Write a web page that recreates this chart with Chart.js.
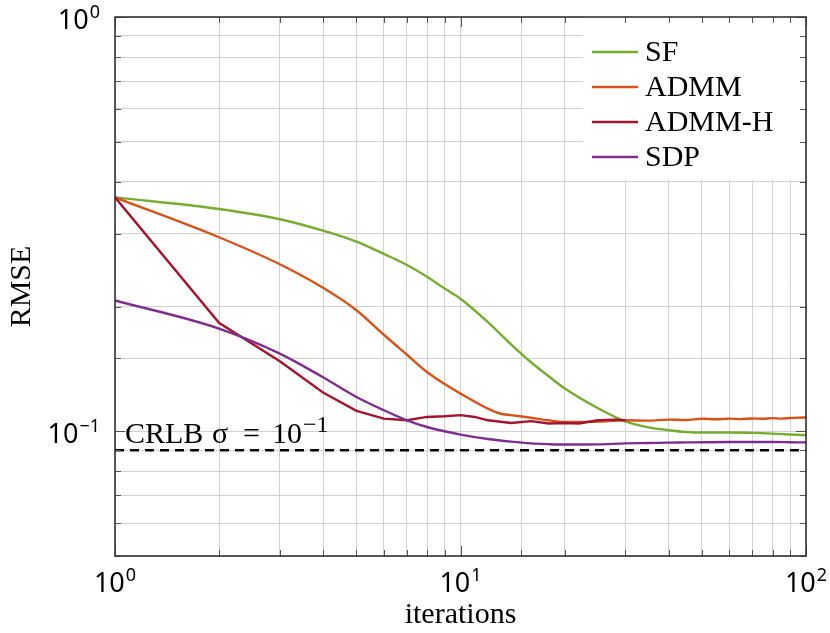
<!DOCTYPE html>
<html>
<head>
<meta charset="utf-8">
<script src="https://cdn.jsdelivr.net/npm/chart.js@4.4.1/dist/chart.umd.min.js"></script>
<style>
  html, body { margin: 0; padding: 0; background: #fff; }
  #wrap { width: 830px; height: 633px; }
</style>
</head>
<body>
<div id="wrap"><canvas id="rmseChart" width="830" height="633"></canvas></div>
<script>
// ---- data ----
const iters = [1, 2, 3, 4, 5, 6, 7, 8, 9, 10, 12, 14, 16, 18, 20, 25, 30, 35, 40, 45, 50, 60, 70, 80, 90, 100];
const sfRmse = [0.367, 0.344, 0.325, 0.305, 0.287, 0.268, 0.252, 0.236, 0.221, 0.2089, 0.1834, 0.1622, 0.1468, 0.1358, 0.127, 0.1137, 0.1057, 0.1022, 0.1006, 0.0996, 0.0993, 0.0993, 0.0991, 0.0987, 0.0982, 0.0979];
const sdpRmse = [0.207, 0.177, 0.154, 0.135, 0.121, 0.1124, 0.1063, 0.1024, 0.1000, 0.0982, 0.0958, 0.0944, 0.0935, 0.0931, 0.0929, 0.0930, 0.0935, 0.0937, 0.0939, 0.0940, 0.0941, 0.0942, 0.0942, 0.0942, 0.0941, 0.0940];
const itersA = [1, 2, 3, 4, 5, 6, 7, 8, 9, 10, 12, 13, 14, 16, 18, 20, 25, 30, 35, 40, 45, 50, 55, 60, 65, 70, 75, 80, 85, 90, 95, 100];
const admmRmse = [0.367, 0.294, 0.253, 0.222, 0.196, 0.171, 0.153, 0.139, 0.130, 0.1233, 0.1134, 0.1104, 0.1094, 0.1078, 0.1063, 0.1053, 0.1055, 0.1063, 0.1061, 0.1067, 0.1065, 0.1072, 0.1069, 0.1073, 0.1070, 0.1074, 0.1072, 0.1076, 0.1073, 0.1077, 0.1079, 0.1080];
const itersH = [1, 2, 3, 4, 5, 6, 7, 8, 9, 10, 11, 12, 14, 16, 18, 20, 22, 25, 28, 30];
const admmHRmse = [0.367, 0.1827, 0.1476, 0.124, 0.112, 0.1073, 0.1063, 0.1083, 0.1087, 0.1094, 0.1083, 0.1063, 0.1047, 0.1058, 0.1044, 0.1047, 0.1044, 0.1063, 0.1067, 0.1063];
const crlb = 0.09;
const crlbParts = ['CRLB', 'σ', '=', '10'];
const crlbExp = '−1';

const seriesNames = ['SF', 'ADMM', 'ADMM-H', 'SDP'];
const seriesColors = ['#77ac30', '#d95319', '#a2142f', '#7e2f8e'];

// labelled decades: base "10" with an exponent
const xTickValues = [1, 10, 100];
const xTickExp = ['0', '1', '2'];
const yTickValues = [0.1, 1];
const yTickExp = ['−1', '0'];

const serif = "'Liberation Serif', serif";
const sans = "'Noto Sans', sans-serif";

function pts(xs, ys) {
    return ys.map((y, i) => ({ x: xs[i], y: y }));
}

function isDecade(value) {
    return Math.abs(Math.log10(value) - Math.round(Math.log10(value))) < 1e-6;
}

// draws "10" + raised exponent; align = 'center' or 'right'
function drawPow(ctx, x, baseline, exp, align) {
    ctx.font = '27px ' + sans;
    const wb = ctx.measureText('10').width;
    ctx.font = '18px ' + sans;
    const we = ctx.measureText(exp).width + 1;
    const total = wb + we;
    const left = align === 'right' ? x - total : x - total / 2;
    ctx.textAlign = 'left';
    ctx.textBaseline = 'alphabetic';
    ctx.font = '27px ' + sans;
    ctx.fillText('10', left, baseline);
    ctx.font = '18px ' + sans;
    ctx.fillText(exp, left + wb + 1, baseline - 11);
}

// frame, inward tick marks, tick labels, legend and the CRLB note
const decorPlugin = {
    id: 'decor',
    afterDatasetsDraw(chart) {
        const ctx = chart.ctx;
        const a = chart.chartArea;
        const xs = chart.scales.x;
        const ys = chart.scales.y;

        // CRLB note, set in pieces like the math typesetting
        ctx.save();
        ctx.fillStyle = '#000';
        ctx.textBaseline = 'alphabetic';
        const nx = a.left + 10;
        const ny = ys.getPixelForValue(crlb) - 7;
        const offs = [0, 87, 118, 147];
        ctx.font = '30px ' + serif;
        crlbParts.forEach((p, i) => ctx.fillText(p, nx + offs[i], ny));
        ctx.font = '24px ' + serif;
        ctx.fillText(crlbExp, nx + 178, ny - 11);
        ctx.restore();

        // legend box
        const box = { left: 583, top: a.top, right: a.right, bottom: 180 };
        ctx.save();
        ctx.fillStyle = '#fff';
        ctx.fillRect(box.left, box.top, box.right - box.left, box.bottom - box.top);
        ctx.font = '30px ' + serif;
        ctx.textBaseline = 'middle';
        ctx.fillStyle = '#000';
        const rowY = [52, 87, 122, 157];
        seriesNames.forEach((name, i) => {
            ctx.strokeStyle = seriesColors[i];
            ctx.lineWidth = 2.4;
            ctx.beginPath();
            ctx.moveTo(592, rowY[i]);
            ctx.lineTo(638, rowY[i]);
            ctx.stroke();
            ctx.fillText(name, 645, rowY[i] + 1);
        });
        ctx.restore();

        // tick marks pointing inward
        ctx.save();
        ctx.strokeStyle = '#555';
        ctx.lineWidth = 1;
        xs.ticks.forEach(t => {
            const px = Math.round(xs.getPixelForValue(t.value)) + 0.5;
            const len = isDecade(t.value) ? 10 : 6;
            ctx.beginPath();
            ctx.moveTo(px, a.bottom); ctx.lineTo(px, a.bottom - len);
            ctx.moveTo(px, a.top); ctx.lineTo(px, a.top + len);
            ctx.stroke();
        });
        ys.ticks.forEach(t => {
            const py = Math.round(ys.getPixelForValue(t.value)) + 0.5;
            const len = isDecade(t.value) ? 10 : 6;
            ctx.beginPath();
            ctx.moveTo(a.left, py); ctx.lineTo(a.left + len, py);
            ctx.moveTo(a.right, py); ctx.lineTo(a.right - len, py);
            ctx.stroke();
        });
        ctx.restore();

        // frame
        ctx.save();
        ctx.strokeStyle = '#333';
        ctx.lineWidth = 1.6;
        ctx.strokeRect(a.left, a.top, a.right - a.left, a.bottom - a.top);
        ctx.restore();

        // tick labels
        ctx.save();
        ctx.fillStyle = '#000';
        xTickValues.forEach((v, i) => {
            drawPow(ctx, xs.getPixelForValue(v), a.bottom + 36, xTickExp[i], 'center');
        });
        yTickValues.forEach((v, i) => {
            drawPow(ctx, a.left - 15, ys.getPixelForValue(v) + 12, yTickExp[i], 'right');
        });
        ctx.restore();
    }
};

function lineSet(label, data, color, order, smooth) {
    return {
        label: label,
        data: data,
        borderColor: color,
        backgroundColor: color,
        borderWidth: 2.4,
        pointRadius: 0,
        cubicInterpolationMode: smooth ? 'monotone' : 'default',
        tension: 0,
        fill: false,
        order: order
    };
}

Chart.defaults.color = '#000';

new Chart(document.getElementById('rmseChart').getContext('2d'), {
    type: 'line',
    data: {
        datasets: [
            lineSet(seriesNames[0], pts(iters, sfRmse), seriesColors[0], 4, true),
            lineSet(seriesNames[1], pts(itersA, admmRmse), seriesColors[1], 3, true),
            lineSet(seriesNames[2], pts(itersH, admmHRmse), seriesColors[2], 2, false),
            lineSet(seriesNames[3], pts(iters, sdpRmse), seriesColors[3], 1, true),
            Object.assign(lineSet('CRLB', [{ x: 1, y: crlb }, { x: 100, y: crlb }], '#000', 5, false),
                { borderDash: [9, 6], borderWidth: 2.6 })
        ]
    },
    options: {
        responsive: false,
        animation: false,
        layout: { padding: { top: 17, right: 24, left: 0, bottom: 0 } },
        plugins: { legend: { display: false }, tooltip: { enabled: false } },
        scales: {
            x: {
                type: 'logarithmic',
                min: 1,
                max: 100,
                border: { display: false },
                grid: { color: '#d0d0d0', lineWidth: 1, drawTicks: false },
                ticks: { display: false, autoSkip: false },
                title: {
                    display: true,
                    text: 'iterations',
                    font: { family: serif, size: 30 },
                    padding: { top: 0, bottom: 0 }
                },
                afterFit(scale) {
                    scale.height = 77;
                    scale.paddingLeft = 0;
                    scale.paddingRight = 0;
                }
            },
            y: {
                type: 'logarithmic',
                min: 0.05,
                max: 1,
                border: { display: false },
                grid: { color: '#d0d0d0', lineWidth: 1, drawTicks: false },
                ticks: { display: false, autoSkip: false },
                title: {
                    display: true,
                    text: 'RMSE',
                    font: { family: serif, size: 30 },
                    padding: { top: 4, bottom: 0 }
                },
                afterFit(scale) {
                    scale.width = 115;
                    scale.paddingTop = 0;
                    scale.paddingBottom = 0;
                }
            }
        }
    },
    plugins: [decorPlugin]
});
</script>
</body>
</html>
